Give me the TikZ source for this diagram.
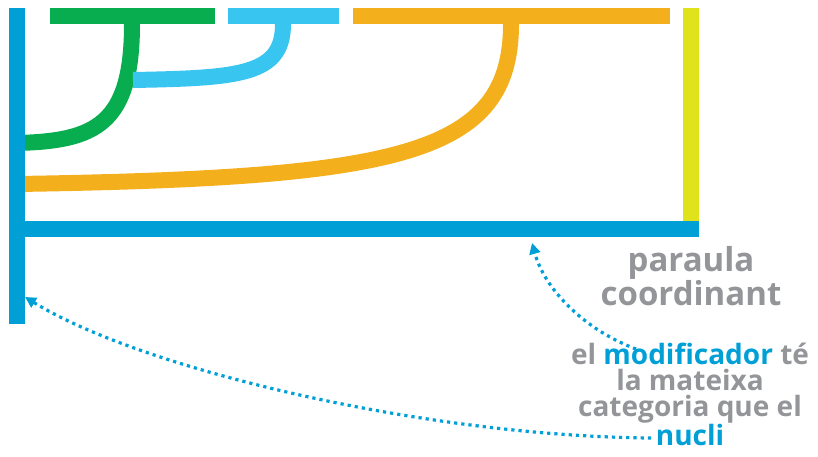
\documentclass[tikz,border=0pt]{standalone}
\usepackage{fontspec}
\setmainfont{Open Sans}
\usepackage{xcolor}
\usetikzlibrary{arrows.meta,positioning}

\definecolor{trunkblue}{RGB}{0,160,215}
\definecolor{skyblue}{RGB}{56,197,240}
\definecolor{leafgreen}{RGB}{8,173,79}
\definecolor{amber}{RGB}{244,175,29}
\definecolor{lime}{RGB}{224,227,27}
\definecolor{wordgray}{RGB}{147,149,152}

\begin{document}
\begin{tikzpicture}[x=1pt,y=-1pt,
  bar/.style={line width=16pt},
  dotarrow/.style={trunkblue,line width=3.2pt,dash pattern=on 3.2pt off 4pt,
                   -{Triangle[length=11pt,width=11pt]}},
  bigword/.style={font=\bfseries\fontsize{33}{32}\selectfont,text=wordgray,align=center,inner sep=0pt},
  smallword/.style={font=\bfseries\fontsize{28}{26}\selectfont,text=wordgray,align=center,inner sep=0pt}
]
\useasboundingbox (0,0) rectangle (818,456);

% Branches hanging from the top bars
\draw[bar,leafgreen] (132,16) -- (132,24) .. controls (132,125) and (95,141) .. (17,143);
\draw[bar,skyblue] (283,16) -- (283,24) .. controls (283,75) and (240,78) .. (133,80);
\draw[bar,amber] (511,16) -- (511,24) .. controls (511,155) and (400,178) .. (17,184);

% Top bars
\draw[bar,leafgreen] (50,16) -- (215,16);
\draw[bar,skyblue] (228,16) -- (339,16);
\draw[bar,amber] (353,16) -- (670,16);

% Coordinating word and the main frame
\draw[bar,lime] (691,8) -- (691,229);
\draw[bar,trunkblue] (17,8) -- (17,324);
\draw[bar,trunkblue] (17,229) -- (699,229);

% Labels (base = last line)
\node[bigword,anchor=base] (coordword) at (691,305) {paraula\\coordinant};
\node[smallword,anchor=base] (modifword) at (690,445)
  {el \textcolor{trunkblue}{modificador} té\\la mateixa\\categoria que el\\\textcolor{trunkblue}{nucli}};

% Arrows
\coordinate (modifstart) at (636,349);
\coordinate (barpoint) at (532,243);
\coordinate (nuclistart) at (651,438);
\coordinate (trunkpoint) at (25,297);
\draw[dotarrow] (modifstart) .. controls (585,330) and (545,290) .. (barpoint);
\draw[dotarrow] (nuclistart) .. controls (420,436) and (140,368) .. (trunkpoint);
\end{tikzpicture}
\end{document}
